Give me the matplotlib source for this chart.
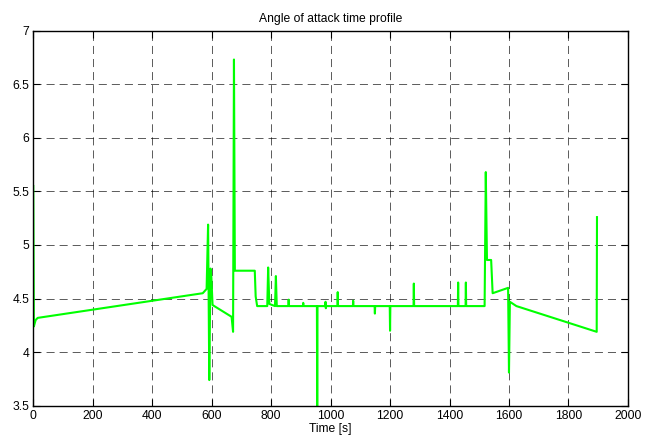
import matplotlib
matplotlib.use("Agg")
import matplotlib.pyplot as plt
from matplotlib.ticker import FuncFormatter

# angle of attack breakpoints (time in s, angle in deg)
time_s = [0, 2, 8, 15, 570, 583, 588, 592, 596, 599, 603, 667, 672, 675, 678,
          745, 748, 753, 787, 790, 794, 813, 816, 819, 858, 859, 860, 907, 908,
          909, 954, 955, 956, 982, 983, 984, 985, 1023, 1024, 1025, 1075, 1076,
          1077, 1148, 1149, 1150, 1199, 1200, 1201, 1279, 1280, 1281, 1428,
          1429, 1430, 1454, 1455, 1456, 1518, 1522, 1526, 1540, 1545, 1597,
          1600, 1603, 1625, 1895, 1896]
alpha = [5.55, 4.24, 4.30, 4.32, 4.55, 4.59, 5.19, 3.74, 4.78, 4.70, 4.44, 4.33,
         4.19, 6.73, 4.76, 4.76, 4.52, 4.43, 4.43, 4.79, 4.45, 4.43, 4.71, 4.43,
         4.43, 4.49, 4.43, 4.43, 4.46, 4.43, 4.43, 3.40, 4.43, 4.43, 4.47, 4.41,
         4.43, 4.43, 4.56, 4.43, 4.43, 4.48, 4.43, 4.43, 4.36, 4.43, 4.43, 4.20,
         4.43, 4.43, 4.64, 4.43, 4.43, 4.65, 4.43, 4.43, 4.65, 4.43, 4.43, 5.68,
         4.86, 4.86, 4.55, 4.60, 3.81, 4.47, 4.43, 4.19, 5.26]

xticks = list(range(0, 2001, 200))
yticks = [3.5, 4, 4.5, 5, 5.5, 6, 6.5, 7]

plt.rcParams['font.family'] = ['Liberation Sans', 'DejaVu Sans']
plt.rcParams['lines.scale_dashes'] = False

fig = plt.figure(figsize=(6.46, 4.43), dpi=100)
ax = fig.add_axes([0.0515, 0.084, 0.9205, 0.847])

ax.plot(time_s, alpha, color=(0, 1, 0), lw=1.5)

ax.set_xlim(0, 2000)
ax.set_ylim(3.5, 7)
ax.set_xticks(xticks)
ax.set_yticks(yticks)
ax.yaxis.set_major_formatter(FuncFormatter(lambda v, p: '%g' % v))
ax.tick_params(direction='in', length=5, width=0.8, labelsize=8.7,
               top=True, right=True, pad=3, colors='k')
ax.grid(True, color='k', lw=0.6, linestyle=(0, (5.8, 3.6)), alpha=0.75)
for s in ax.spines.values():
    s.set_linewidth(1.0)

ax.set_title('Angle of attack time profile', fontsize=8.7, pad=6)
ax.set_xlabel('Time [s]', fontsize=8.7, labelpad=1)

fig.savefig('out.png', dpi=100)
